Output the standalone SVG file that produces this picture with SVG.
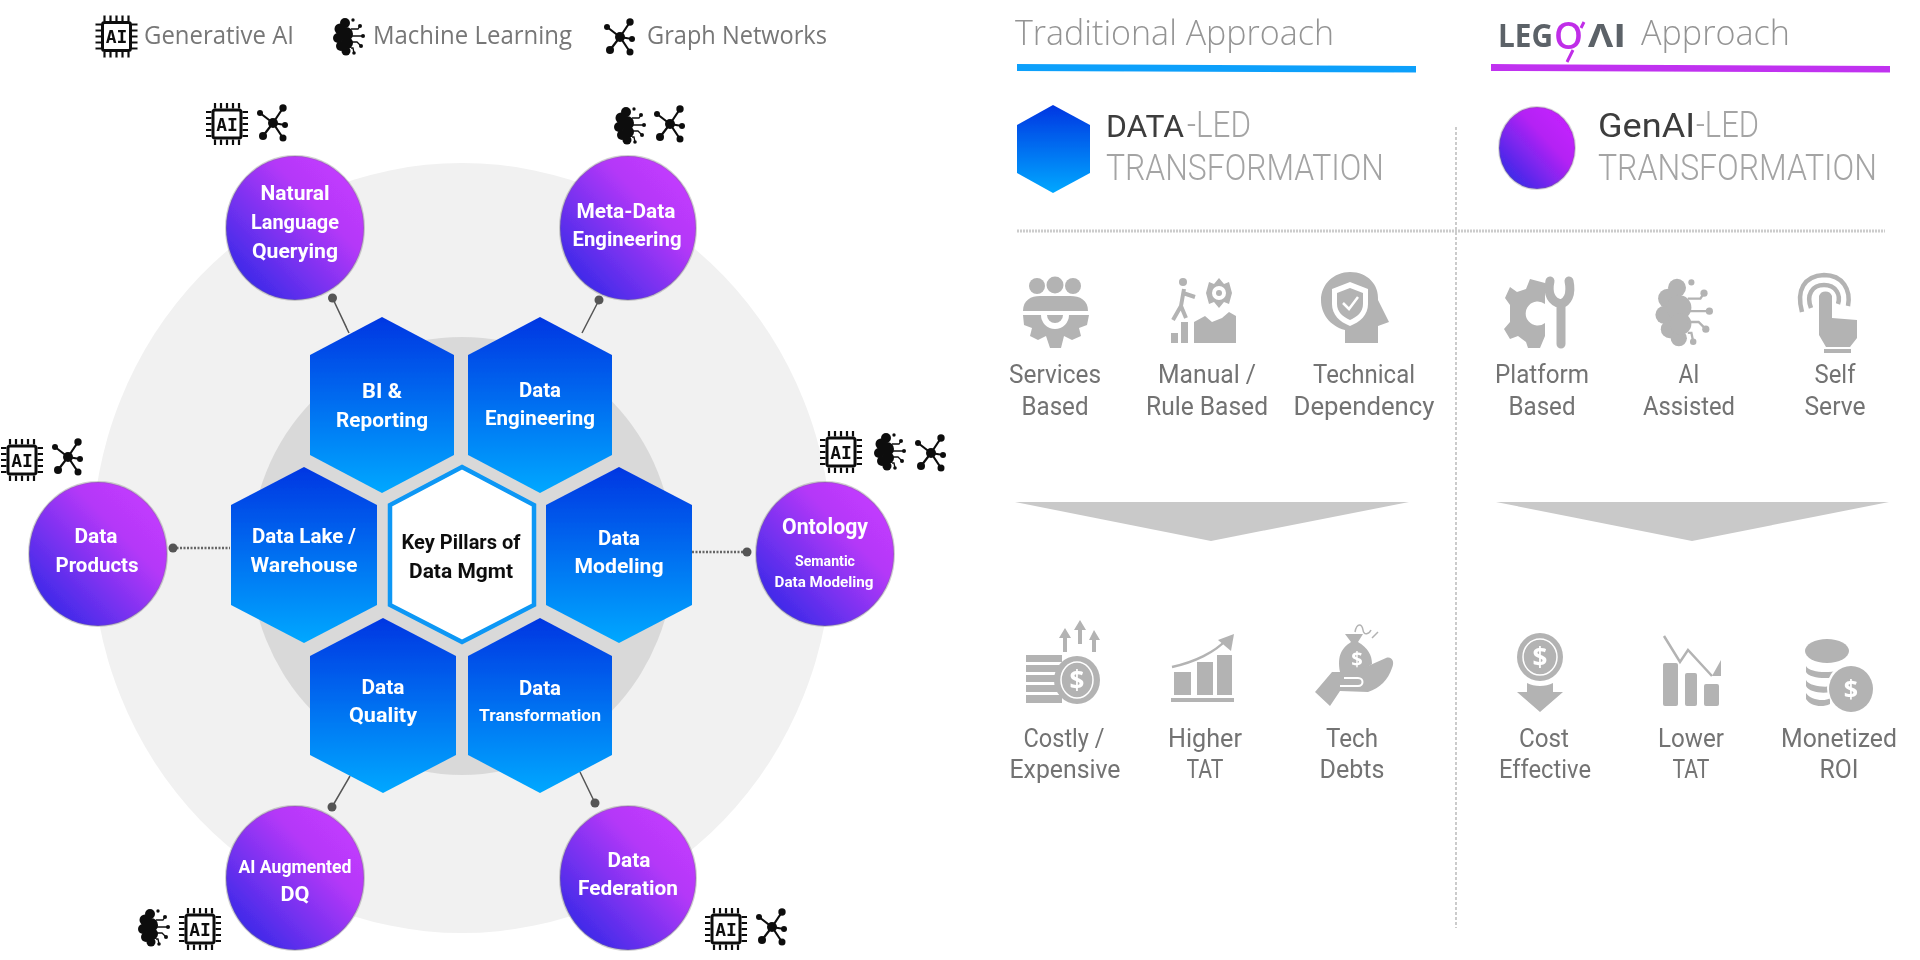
<svg xmlns="http://www.w3.org/2000/svg" width="1920" height="960" viewBox="0 0 1920 960">
<style>
text{font-family:"Open Sans","Noto Sans","Liberation Sans",sans-serif;text-anchor:middle}
.w,.k,.s,.l,.t,.d{font-family:Roboto,"Open Sans","Liberation Sans",sans-serif}
.w{fill:#fff;font-weight:700;font-size:20px}
.k{fill:#111;font-weight:700;font-size:20px}
.s{fill:#fff;font-weight:700;font-size:15px}
.lg{fill:#777;font-size:26px;text-anchor:start}
.h{fill:#949494;font-weight:300;font-size:35px;text-anchor:start}
.t{fill:#a4a4a4;font-weight:300;font-size:36px;text-anchor:start}
.d{fill:#3c3c3c;font-weight:400;font-size:36px;text-anchor:start}
.l{fill:#737373;font-size:26px}
.ic{fill:#b3b3b3}
.cut{fill:#fff}
.hx{fill:url(#blue)}
.pc{fill:url(#purple);stroke:#777;stroke-opacity:.35;stroke-width:2}
.cn{stroke:#555;stroke-width:1.5;fill:none}
.cd{stroke:#666;stroke-width:2.5;stroke-dasharray:2 1.5;fill:none}
.dot{fill:#555}
</style>
<defs>
<filter id="soft" filterUnits="userSpaceOnUse" x="0" y="0" width="1920" height="960"><feGaussianBlur stdDeviation="0.7"/></filter>
<linearGradient id="blue" x1="0" y1="0" x2="0" y2="1"><stop offset="0" stop-color="#0336e2"/><stop offset="1" stop-color="#00a8ff"/></linearGradient>
<linearGradient id="purple" x1="0.12" y1="0.88" x2="0.88" y2="0.12"><stop offset="0" stop-color="#3a2ae8"/><stop offset="0.7" stop-color="#b438f8"/><stop offset="1" stop-color="#c33bff"/></linearGradient>
<linearGradient id="purple2" x1="0.12" y1="0.88" x2="0.88" y2="0.12"><stop offset="0" stop-color="#3a2ae8"/><stop offset="0.65" stop-color="#b422f4"/><stop offset="1" stop-color="#c41fff"/></linearGradient>
<g id="chip">
<rect x="-14" y="-14" width="28" height="28" rx="2" fill="#fff" stroke="#111" stroke-width="3"/>
<path d="M-12-15.500V-21M-6-15.500V-21M0-15.500V-21M6-15.500V-21M12-15.500V-21M-12 15.500V21M-6 15.500V21M0 15.500V21M6 15.500V21M12 15.500V21M-15.500-12H-21M-15.500-6H-21M-15.500 0H-21M-15.500 6H-21M-15.500 12H-21M15.500-12H21M15.500-6H21M15.500 0H21M15.500 6H21M15.500 12H21" stroke="#111" stroke-width="2.200" fill="none"/>
<text x="0" y="6.500" style="font-family:'DejaVu Sans Mono','Liberation Mono',monospace;font-weight:700;font-size:18px;fill:#111">AI</text>
</g>
<g id="graph" fill="#111" stroke="#111">
<path d="M0 0L10-15M0 0L12 2M0 0L10 15M0 0L-10 13M0 0L-13-10" stroke-width="2.200" fill="none"/>
<circle r="5" stroke="none"/><circle cx="10" cy="-15" r="3.700" stroke="none"/><circle cx="12" cy="2" r="3" stroke="none"/><circle cx="10" cy="15" r="3.500" stroke="none"/><circle cx="-10" cy="13" r="4" stroke="none"/><circle cx="-13" cy="-10" r="3" stroke="none"/>
</g>
<g id="brain">
<circle cx="-5" cy="-14" r="5"/><circle cx="-10" cy="-8" r="5.500"/><circle cx="-12" cy="1" r="5"/><circle cx="-9" cy="9" r="5"/><circle cx="-4" cy="14" r="4.500"/><circle cx="-4" cy="-3" r="7"/><circle cx="-3" cy="6" r="6"/>
<circle cx="3" cy="-17" r="1.700"/><circle cx="10" cy="-11" r="2"/><circle cx="13" cy="-1" r="2"/><circle cx="11" cy="9" r="2"/><circle cx="4" cy="16" r="1.800"/>
<path d="M1-8H8L10-11M1-1H13M1 5H7L11 9M1 11H3L4 16" fill="none" stroke="currentColor" stroke-width="1.300"/>
</g>
</defs>
<rect width="1920" height="960" fill="#fff"/>
<g filter="url(#soft)">
<g id="rings">
<ellipse cx="462" cy="548" rx="370" ry="385" fill="#f1f1f1"/>
<ellipse cx="462" cy="556" rx="212" ry="219" fill="#d9d9d9"/>
</g>
<g id="connectors">
<path class="cn" d="M332.500 298L349 333M599 300L582 333M332 807L350 776M595 803L580 772"/>
<path class="cd" d="M173 548H230M692 552H747"/>
<circle class="dot" cx="332.500" cy="298" r="4.500"/><circle class="dot" cx="599" cy="300" r="4.500"/><circle class="dot" cx="173" cy="548" r="4.500"/><circle class="dot" cx="747" cy="552" r="4.500"/><circle class="dot" cx="332" cy="807" r="4.500"/><circle class="dot" cx="595" cy="803" r="4.500"/>
</g>
<g id="legend">
<use href="#chip" transform="translate(116.500 36.500)"/><text class="lg" x="144" y="44" textLength="150" lengthAdjust="spacingAndGlyphs">Generative AI</text>
<use href="#brain" transform="translate(350 37)" color="#111" fill="#111"/><text class="lg" x="373" y="44" textLength="199" lengthAdjust="spacingAndGlyphs">Machine Learning</text>
<use href="#graph" transform="translate(620 37)"/><text class="lg" x="647" y="44" textLength="180" lengthAdjust="spacingAndGlyphs">Graph Networks</text>
</g>
<g id="hex-bi"><path class="hx" d="M382 317L454 355V455L382 493L310 455V355Z"/><text class="w" x="382" y="398" textLength="40" lengthAdjust="spacingAndGlyphs">BI &amp;</text><text class="w" x="382" y="427" textLength="92" lengthAdjust="spacingAndGlyphs">Reporting</text></g>
<g id="hex-eng"><path class="hx" d="M540 317L612 355V455L540 493L468 455V355Z"/><text class="w" x="540" y="397" textLength="42" lengthAdjust="spacingAndGlyphs">Data</text><text class="w" x="540" y="425" textLength="110" lengthAdjust="spacingAndGlyphs">Engineering</text></g>
<g id="hex-lake"><path class="hx" d="M304 467L377 505V605L304 643L231 605V505Z"/><text class="w" x="304" y="543" textLength="104" lengthAdjust="spacingAndGlyphs">Data Lake /</text><text class="w" x="304" y="572" textLength="107" lengthAdjust="spacingAndGlyphs">Warehouse</text></g>
<g id="hex-model"><path class="hx" d="M619 467L692 505V605L619 643L546 605V505Z"/><text class="w" x="619" y="545" textLength="42" lengthAdjust="spacingAndGlyphs">Data</text><text class="w" x="619" y="573" textLength="89" lengthAdjust="spacingAndGlyphs">Modeling</text></g>
<g id="hex-center"><path d="M462 467L534 505V605L462 642L390 605V505Z" fill="#fff" stroke="#0a97f5" stroke-width="4.500"/><text class="k" x="461" y="549" textLength="119" lengthAdjust="spacingAndGlyphs">Key Pillars of</text><text class="k" x="461" y="578" textLength="104" lengthAdjust="spacingAndGlyphs">Data Mgmt</text></g>
<g id="hex-quality"><path class="hx" d="M383 618L456 656V755L383 793L310 755V656Z"/><text class="w" x="383" y="694" textLength="43" lengthAdjust="spacingAndGlyphs">Data</text><text class="w" x="383" y="722" textLength="68" lengthAdjust="spacingAndGlyphs">Quality</text></g>
<g id="hex-transform"><path class="hx" d="M540 618L612 656V755L540 793L468 755V656Z"/><text class="w" x="540" y="695" textLength="42" lengthAdjust="spacingAndGlyphs">Data</text><text class="w" x="540" y="721" style="font-size:17px" textLength="122" lengthAdjust="spacingAndGlyphs">Transformation</text></g>
<g id="node-nlq"><ellipse class="pc" cx="295" cy="228" rx="69" ry="72"/><text class="w" x="295" y="200" textLength="69" lengthAdjust="spacingAndGlyphs">Natural</text><text class="w" x="295" y="229" textLength="88" lengthAdjust="spacingAndGlyphs">Language</text><text class="w" x="295" y="258" textLength="86" lengthAdjust="spacingAndGlyphs">Querying</text>
<use href="#chip" transform="translate(227 124)"/><use href="#graph" transform="translate(273 123)"/></g>
<g id="node-meta"><ellipse class="pc" cx="628" cy="228" rx="68" ry="72"/><text class="w" x="626" y="218" textLength="99" lengthAdjust="spacingAndGlyphs">Meta-Data</text><text class="w" x="627" y="246" textLength="109" lengthAdjust="spacingAndGlyphs">Engineering</text>
<use href="#brain" transform="translate(631 126)" color="#111" fill="#111"/><use href="#graph" transform="translate(670 124)"/></g>
<g id="node-products"><ellipse class="pc" cx="98" cy="554" rx="69" ry="72"/><text class="w" x="96" y="543" textLength="43" lengthAdjust="spacingAndGlyphs">Data</text><text class="w" x="97" y="572" textLength="83" lengthAdjust="spacingAndGlyphs">Products</text>
<use href="#chip" transform="translate(22 460)"/><use href="#graph" transform="translate(68 457)"/></g>
<g id="node-ontology"><ellipse class="pc" cx="825" cy="554" rx="69" ry="72"/><text class="w" x="825" y="534" style="font-size:22px" textLength="86" lengthAdjust="spacingAndGlyphs">Ontology</text><text class="s" x="825" y="566" textLength="60" lengthAdjust="spacingAndGlyphs">Semantic</text><text class="s" x="824" y="587" textLength="99" lengthAdjust="spacingAndGlyphs">Data Modeling</text>
<use href="#chip" transform="translate(841 452)"/><use href="#brain" transform="translate(891 452)" color="#111" fill="#111"/><use href="#graph" transform="translate(931 453)"/></g>
<g id="node-dq"><ellipse class="pc" cx="295" cy="878" rx="69" ry="72"/><text class="w" x="295" y="873" style="font-size:18.500px" textLength="113" lengthAdjust="spacingAndGlyphs">AI Augmented</text><text class="w" x="295" y="901" textLength="29" lengthAdjust="spacingAndGlyphs">DQ</text>
<use href="#brain" transform="translate(155 928)" color="#111" fill="#111"/><use href="#chip" transform="translate(200 929)"/></g>
<g id="node-federation"><ellipse class="pc" cx="628" cy="878" rx="68" ry="72"/><text class="w" x="629" y="867" textLength="43" lengthAdjust="spacingAndGlyphs">Data</text><text class="w" x="628" y="895" textLength="100" lengthAdjust="spacingAndGlyphs">Federation</text>
<use href="#chip" transform="translate(726 929)"/><use href="#graph" transform="translate(772 927)"/></g>

<g id="dividers">
<path d="M1456 127V928" stroke="#aaa" stroke-width="1.200" stroke-dasharray="3 2" fill="none"/>
<path d="M1017 231H1885" stroke="#ccc" stroke-width="3" stroke-dasharray="2 1" fill="none"/>
</g>
<g id="head-traditional"><text class="h" x="1015" y="45" textLength="319" lengthAdjust="spacingAndGlyphs">Traditional Approach</text><path d="M1017 64L1416 66V72.500L1017 71Z" fill="#10a0fb"/></g>
<g id="head-lego">
<text x="1498" y="47" style="font-size:32px;font-weight:700;fill:#5c6268;text-anchor:start" textLength="55" lengthAdjust="spacingAndGlyphs">LEG</text>
<text x="1554" y="49" style="font-size:37px;font-weight:600;fill:#c02ee8;text-anchor:start" textLength="29" lengthAdjust="spacingAndGlyphs">O</text>
<path d="M1573 50L1567 62M1584 22L1581 28" stroke="#c02ee8" stroke-width="3" fill="none"/>
<text x="1588" y="47" style="font-size:32px;font-weight:700;fill:#5c6268;text-anchor:start" textLength="38" lengthAdjust="spacingAndGlyphs">ΛI</text>
<text class="h" x="1641" y="45" textLength="149" lengthAdjust="spacingAndGlyphs">Approach</text>
<path d="M1491 64L1890 66V72.500L1491 71Z" fill="#c030f0"/></g>
<g id="led-data"><path d="M1053 105L1090 125V173L1053 193L1017 173V125Z" fill="url(#blue)"/><text class="d" x="1106" y="137" style="font-size:31px" textLength="78" lengthAdjust="spacingAndGlyphs">DATA</text><text class="t" x="1187" y="137" textLength="64" lengthAdjust="spacingAndGlyphs">-LED</text><text class="t" x="1106" y="180" textLength="278" lengthAdjust="spacingAndGlyphs">TRANSFORMATION</text></g>
<g id="led-genai"><ellipse cx="1537" cy="148" rx="38" ry="41" fill="url(#purple2)" stroke="#777" stroke-opacity=".3" stroke-width="2"/><text class="d" x="1598" y="137" style="font-size:34px" textLength="97" lengthAdjust="spacingAndGlyphs">GenAI</text><text class="t" x="1696" y="137" textLength="63" lengthAdjust="spacingAndGlyphs">-LED</text><text class="t" x="1598" y="180" textLength="279" lengthAdjust="spacingAndGlyphs">TRANSFORMATION</text></g>

<g id="item-services">
<g class="ic"><circle cx="1037" cy="286" r="8"/><circle cx="1055" cy="285" r="8.500"/><circle cx="1073" cy="286" r="8"/>
<path d="M1023 311C1023 300 1031 296 1040 296H1070C1080 296 1088 300 1088 311Z"/>
<path d="M1023 315H1089L1087 325L1079 328L1081 336L1072 340L1064 336L1061 348H1050L1046 336L1038 340L1030 336L1032 328L1024 325Z"/></g>
<path class="cut" d="M1041 315A14 14 0 0 0 1069 315Z"/><path class="ic" d="M1047 315A8 8 0 0 0 1063 315Z"/>
<text class="l" x="1055" y="383" textLength="92" lengthAdjust="spacingAndGlyphs">Services</text><text class="l" x="1055" y="415" textLength="67" lengthAdjust="spacingAndGlyphs">Based</text></g>
<g id="item-manual">
<g class="ic"><path d="M1194 343V322L1205 316L1212 322L1222 318L1229 312L1236 316V343Z"/><rect x="1171" y="333" width="7" height="10"/><rect x="1181" y="322" width="7" height="21"/><circle cx="1183" cy="282" r="4"/>
<path d="M1206 293L1209 282L1214 284L1219 278L1224 284L1229 282L1232 293L1229 304L1224 302L1219 308L1214 302L1209 304Z"/></g>
<circle cx="1219" cy="293" r="7" class="cut"/><circle cx="1219" cy="293" r="3" class="ic"/>
<path d="M1184 289L1181 306L1186 318M1181 306L1173 320M1183 293L1195 297" stroke="#b3b3b3" stroke-width="4" fill="none"/>
<text class="l" x="1207" y="383" textLength="98" lengthAdjust="spacingAndGlyphs">Manual /</text><text class="l" x="1207" y="415" textLength="122" lengthAdjust="spacingAndGlyphs">Rule Based</text></g>
<g id="item-technical">
<path class="ic" d="M1345 343V330C1330 326 1321 314 1321 300C1321 284 1334 272 1350 272C1368 272 1379 285 1378 300L1389 322L1378 326V343Z"/>
<path d="M1350 282L1368 289V304C1368 315 1360 322 1350 326C1340 322 1332 315 1332 304V289Z" class="cut"/>
<path d="M1350 288L1363 293V304C1363 312 1357 317 1350 320C1343 317 1337 312 1337 304V293Z" class="ic"/>
<path d="M1343 303L1349 309L1358 297" stroke="#fff" stroke-width="2.500" fill="none"/>
<text class="l" x="1364" y="383" textLength="102" lengthAdjust="spacingAndGlyphs">Technical</text><text class="l" x="1364" y="415" textLength="141" lengthAdjust="spacingAndGlyphs">Dependency</text></g>
<g id="item-platform">
<path class="ic" d="M1545 283L1530 279L1526 289L1517 292L1510 287L1505 298L1510 305V322L1504 329L1510 339L1518 336L1526 342L1528 348H1540L1545 336V323A12 12 0 1 1 1545 304Z"/>
<path d="M1550 281C1547 295 1552 302 1561 304V344M1569 281C1572 295 1567 302 1561 304" stroke="#b3b3b3" stroke-width="9" fill="none" stroke-linecap="round"/>
<text class="l" x="1542" y="383" textLength="94" lengthAdjust="spacingAndGlyphs">Platform</text><text class="l" x="1542" y="415" textLength="67" lengthAdjust="spacingAndGlyphs">Based</text></g>
<g id="item-ai"><use href="#brain" transform="translate(1686 313) scale(1.800)" color="#b3b3b3" fill="#b3b3b3"/>
<text class="l" x="1689" y="383" textLength="21" lengthAdjust="spacingAndGlyphs">AI</text><text class="l" x="1689" y="415" textLength="92" lengthAdjust="spacingAndGlyphs">Assisted</text></g>
<g id="item-self">
<path d="M1802 312C1796 290 1804 276 1824 275C1843 275 1851 290 1848 306M1811 308C1806 295 1812 285 1824 285C1836 285 1841 295 1838 304" stroke="#b3b3b3" stroke-width="4.500" fill="none"/>
<path class="ic" d="M1819 296A7 7 0 0 1 1832 296V318L1857 320V338L1850 347H1826L1819 335Z"/><rect class="ic" x="1824" y="349" width="27" height="4"/>
<text class="l" x="1835" y="383" textLength="41" lengthAdjust="spacingAndGlyphs">Self</text><text class="l" x="1835" y="415" textLength="61" lengthAdjust="spacingAndGlyphs">Serve</text></g>

<g id="arrows"><path d="M1015 502H1409L1211 541Z" fill="#c9c9c9"/><path d="M1496 502H1889L1692 541Z" fill="#c9c9c9"/></g>

<g id="item-costly">
<g class="ic"><rect x="1026" y="655" width="36" height="7"/><rect x="1026" y="665" width="36" height="7"/><rect x="1026" y="675" width="36" height="7"/><rect x="1026" y="685" width="36" height="7"/><rect x="1026" y="695" width="36" height="8"/>
<ellipse cx="1077" cy="680" rx="23" ry="24"/><path d="M1059 638L1065 628L1071 638H1067V652H1063V638ZM1074 630L1080 620L1086 630H1082V644H1078V630ZM1089 640L1094 630L1100 640H1096V652H1092V640Z"/></g>
<ellipse cx="1077" cy="680" rx="16" ry="18" fill="none" stroke="#fff" stroke-width="1.500"/><text x="1077" y="690" style="font-size:26px;font-weight:700;fill:#fff">$</text>
<text class="l" x="1064" y="747" textLength="81" lengthAdjust="spacingAndGlyphs">Costly /</text><text class="l" x="1065" y="778" textLength="111" lengthAdjust="spacingAndGlyphs">Expensive</text></g>
<g id="item-higher">
<g class="ic"><rect x="1174" y="672" width="17" height="23"/><rect x="1197" y="662" width="16" height="33"/><rect x="1217" y="655" width="15" height="40"/><rect x="1171" y="698" width="63" height="4"/><path d="M1218 640L1234 634L1231 651Z"/></g>
<path d="M1172 667C1195 662 1215 652 1226 640" stroke="#b3b3b3" stroke-width="2.500" fill="none"/>
<text class="l" x="1205" y="747" textLength="74" lengthAdjust="spacingAndGlyphs">Higher</text><text class="l" x="1205" y="778" textLength="37" lengthAdjust="spacingAndGlyphs">TAT</text></g>
<g id="item-tech">
<path class="ic" d="M1351 642L1345 634H1363L1358 642C1368 648 1372 655 1372 664L1360 672H1340C1337 655 1342 648 1351 642Z"/>
<path class="ic" d="M1315 692L1332 672H1352L1368 666L1386 658C1392 656 1395 662 1392 668C1388 680 1380 688 1368 692L1340 691L1330 706Z"/>
<path d="M1340 686H1358C1364 686 1364 678 1358 678H1344" stroke="#fff" stroke-width="2" fill="none"/>
<text x="1357" y="666" style="font-size:20px;font-weight:700;fill:#fff">$</text>
<path d="M1355 632C1357 622 1362 624 1363 630C1364 636 1369 634 1371 630M1372 638L1378 632" stroke="#b3b3b3" stroke-width="1.500" fill="none"/>
<text class="l" x="1352" y="747" textLength="52" lengthAdjust="spacingAndGlyphs">Tech</text><text class="l" x="1352" y="778" textLength="65" lengthAdjust="spacingAndGlyphs">Debts</text></g>
<g id="item-cost">
<ellipse class="ic" cx="1540" cy="657" rx="23" ry="24"/><ellipse cx="1540" cy="657" rx="17" ry="18" fill="none" stroke="#fff" stroke-width="1.500"/><text x="1540" y="667" style="font-size:26px;font-weight:700;fill:#fff">$</text>
<path class="ic" d="M1527 683C1534 687 1546 687 1553 683V692H1563L1540 712L1517 692H1527Z"/>
<text class="l" x="1544" y="747" textLength="50" lengthAdjust="spacingAndGlyphs">Cost</text><text class="l" x="1545" y="778" textLength="92" lengthAdjust="spacingAndGlyphs">Effective</text></g>
<g id="item-lower">
<g class="ic"><rect x="1663" y="663" width="15" height="43" rx="2"/><rect x="1685" y="673" width="12" height="33" rx="2"/><rect x="1704" y="684" width="15" height="22" rx="2"/><path d="M1712 676H1721V660Z"/></g>
<path d="M1664 636L1680 662L1688 650L1712 676" stroke="#b3b3b3" stroke-width="2.500" fill="none"/>
<text class="l" x="1691" y="747" textLength="66" lengthAdjust="spacingAndGlyphs">Lower</text><text class="l" x="1691" y="778" textLength="37" lengthAdjust="spacingAndGlyphs">TAT</text></g>
<g id="item-roi">
<ellipse class="ic" cx="1827" cy="651" rx="22" ry="12"/>
<path d="M1806 666C1810 674 1840 674 1846 666V672C1840 680 1810 680 1806 672ZM1806 680C1810 688 1834 688 1836 684V690C1830 694 1810 694 1806 686ZM1806 693C1810 700 1825 702 1830 698V704C1822 708 1810 706 1806 699Z" class="ic"/>
<ellipse cx="1851" cy="688" rx="24" ry="25" class="cut"/>
<ellipse class="ic" cx="1851" cy="689" rx="22" ry="23"/><text x="1851" y="698" style="font-size:25px;font-weight:700;fill:#fff">$</text>
<text class="l" x="1839" y="747" textLength="116" lengthAdjust="spacingAndGlyphs">Monetized</text><text class="l" x="1839" y="778" textLength="39" lengthAdjust="spacingAndGlyphs">ROI</text></g>
</g>
</svg>
